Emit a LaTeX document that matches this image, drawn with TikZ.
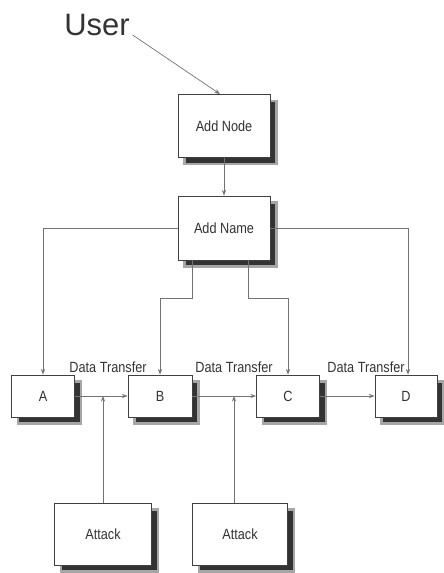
\documentclass[tikz,border=0pt]{standalone}
\usepackage{fontspec}
\setmainfont{Liberation Sans}
\newfontfamily\narrowfont[FakeStretch=0.86]{Liberation Sans}
\usepackage{tikz}
\tikzstyle{blk} = [draw=black!75, fill=white, line width=0.6pt, font=\narrowfont\fontsize{10.5}{12}\selectfont,
  text=black!80, preaction={fill=black!80, draw=black!35, line width=1.8pt, transform canvas={xshift=4.6pt, yshift=-4.6pt}}]
\tikzstyle{lbl} = [font=\narrowfont\fontsize{10.5}{12}\selectfont, text=black!80]
\tikzstyle{wire} = [draw=black!55, line width=0.5pt]
\usetikzlibrary{arrows.meta,calc}

\begin{document}
\begin{tikzpicture}[x=0.025cm, y=0.025cm, >={Stealth[length=4pt,width=3pt]}]
  \useasboundingbox (0,0) rectangle (443,-573);
  \node[font=\fontsize{22}{24}\selectfont, text=black!80] (U) at (97,-25) {User};
  \node[blk, minimum width=2.3cm, minimum height=1.575cm] (AN) at (224,-126) {Add Node};
  \node[blk, minimum width=2.3cm, minimum height=1.6cm] (AM) at (224,-228) {Add Name};

  \node[blk, minimum width=1.575cm, minimum height=1.05cm] (A) at (43,-396) {A};
  \node[blk, minimum width=1.6cm, minimum height=1.05cm] (B) at (160,-396) {B};
  \node[blk, minimum width=1.575cm, minimum height=1.05cm] (C) at (288,-396) {C};
  \node[blk, minimum width=1.55cm, minimum height=1.05cm] (D) at (406,-396) {D};

  \node[blk, minimum width=2.425cm, minimum height=1.55cm] (K1) at (103,-534) {Attack};
  \node[blk, minimum width=2.375cm, minimum height=1.55cm] (K2) at (240,-534) {Attack};

  \node[lbl] (T1) at (108,-367) {Data Transfer};
  \node[lbl] (T2) at (234,-367) {Data Transfer};
  \node[lbl] (T3) at (366,-367) {Data Transfer};

  \coordinate (j1) at (103,-396);
  \coordinate (j2) at (234,-396);

  \draw[wire, ->] ($(U.east)+(-2,-10)$) -- ($(AN.north)+(-4,0)$);
  \draw[wire, ->] (AN.south) -- (AM.north);
  \draw[wire, ->] (AM.west) -| (A.north);
  \draw[wire, ->] (AM.east) -| ($(D.north)+(2,0)$);
  \draw[wire, ->] ($(AM.south)+(-32,0)$) -- ++(0,-38) -| (B.north);
  \draw[wire, ->] ($(AM.south)+(24,0)$) -- ++(0,-38) -| (C.north);

  \draw[wire, ->] (A.east) -- (B.west);
  \draw[wire, ->] (B.east) -- (C.west);
  \draw[wire, ->] (C.east) -- (D.west);
  \draw[wire, ->] (K1.north) -- (j1);
  \draw[wire, ->] (K2.north -| j2) -- (j2);
\end{tikzpicture}
\end{document}
